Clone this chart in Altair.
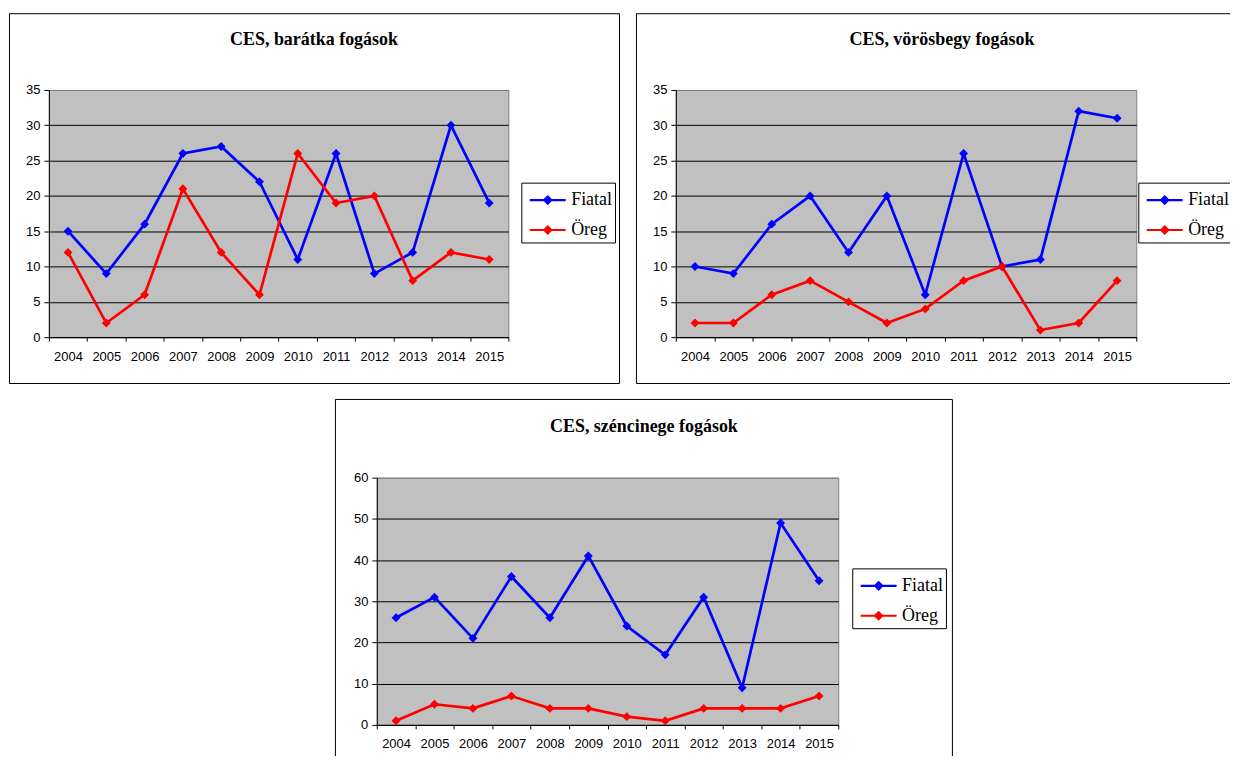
import altair as alt
import pandas as pd

years = ["2004", "2005", "2006", "2007", "2008", "2009", "2010", "2011", "2012", "2013", "2014", "2015"]
groups = ["Fiatal", "Öreg"]

barat_fiatal = [15, 9, 16, 26, 27, 22, 11, 26, 9, 12, 30, 19]
barat_oreg = [12, 2, 6, 21, 12, 6, 26, 19, 20, 8, 12, 11]
voros_fiatal = [10, 9, 16, 20, 12, 20, 6, 26, 10, 11, 32, 31]
voros_oreg = [2, 2, 6, 8, 5, 2, 4, 8, 10, 1, 2, 8]
szen_fiatal = [26, 31, 21, 36, 26, 41, 24, 17, 31, 9, 49, 35]
szen_oreg = [1, 5, 4, 7, 4, 4, 2, 1, 4, 4, 4, 7]

titles = ["CES, barátka fogások", "CES, vörösbegy fogások", "CES, széncinege fogások"]
y_ticks_35 = [0, 5, 10, 15, 20, 25, 30, 35]
y_ticks_60 = [0, 10, 20, 30, 40, 50, 60]

colors = ["#0000FF", "#FF0000"]
SANS = "Liberation Sans"
SERIF = "Liberation Serif"

legend_symbol = "M-1.385,0H1.385M0,-0.27L0.27,0L0,0.27L-0.27,0Z"


def make_df(fiatal, oreg):
    rows = []
    for g, vals in zip(groups, [fiatal, oreg]):
        for yr, v in zip(years, vals):
            rows.append({"year": yr, "group": g, "value": v})
    return pd.DataFrame(rows)


def panel(fiatal, oreg, title, ymax, yticks, W, H, frame, title_pos, legend_pos):
    df = make_df(fiatal, oreg)
    x = alt.X("year:O", title=None,
              scale=alt.Scale(type="band", paddingInner=0, paddingOuter=0),
              axis=alt.Axis(labelAngle=0, tickBand="extent", grid=False,
                            labelFont=SANS, labelFontSize=13, labelColor="black",
                            domainColor="black", tickColor="black", tickSize=4,
                            labelPadding=9))
    y = alt.Y("value:Q", title=None,
              scale=alt.Scale(domain=[0, ymax], nice=False, zero=True),
              axis=alt.Axis(values=yticks, grid=True,
                            gridColor={"condition": {"test": f"datum.value >= {ymax}", "value": "#808080"},
                                       "value": "black"},
                            labelFont=SANS, labelFontSize=13, labelColor="black",
                            domainColor="black", tickColor="black", tickSize=5,
                            labelPadding=4))
    leg = alt.Legend(title=None, orient="none",
                     legendX=legend_pos[0], legendY=legend_pos[1],
                     fillColor="white", strokeColor="black",
                     padding=3, rowPadding=6,
                     symbolType=legend_symbol, symbolSize=676,
                     symbolStrokeWidth=2.2, symbolOffset=9,
                     labelOffset=9,
                     labelFont=SERIF, labelFontSize=18,
                     labelColor="black")
    color = alt.Color("group:N", scale=alt.Scale(domain=groups, range=colors), legend=leg)
    lines = alt.Chart(df).mark_line(strokeWidth=2.7).encode(x=x, y=y, color=color)
    pts = alt.Chart(df).mark_point(shape="diamond", filled=True, size=80, opacity=1).encode(
        x=x, y=y, color=color)
    fr = alt.Chart(pd.DataFrame({"f": [0]})).mark_rect(
        fillOpacity=0, stroke="black", strokeWidth=1).encode(
        x=alt.value(frame[0]), x2=alt.value(frame[1]),
        y=alt.value(frame[2]), y2=alt.value(frame[3]))
    tt = alt.Chart(pd.DataFrame({"t": [title]})).mark_text(
        font=SERIF, fontWeight="bold", fontSize=18, align="center",
        baseline="alphabetic", color="black").encode(
        text="t:N", x=alt.value(title_pos[0]), y=alt.value(title_pos[1]))
    return alt.layer(fr, tt, lines, pts).properties(
        width=W, height=H,
        view=alt.ViewBackground(fill="#C0C0C0", stroke="#808080"))


p1 = panel(barat_fiatal, barat_oreg, titles[0], 35, y_ticks_35, 461, 248,
           (-39.5, 572.5, -76.5, 294.5), (266, -45), (474, 93))
p2 = panel(voros_fiatal, voros_oreg, titles[1], 35, y_ticks_35, 462, 248,
           (-39.5, 572.5, -76.5, 294.5), (267, -45), (464, 93))
p3 = panel(szen_fiatal, szen_oreg, titles[2], 60, y_ticks_60, 463, 248,
           (-41.5, 577.5, -78.5, 294.5), (268, -46), (477, 91))

spacer = alt.Chart(pd.DataFrame({"s": [0]})).mark_rect(fill="white").encode(
    x=alt.value(0), x2=alt.value(1), y=alt.value(0), y2=alt.value(1)).properties(
    width=285, height=248)

ind = dict(x="independent", y="independent", color="independent")
top = alt.hconcat(p1, p2, spacing=14).resolve_scale(**ind)
bottom = alt.hconcat(spacer, p3, spacing=0).resolve_scale(**ind)

chart = alt.vconcat(top, bottom, spacing=13).resolve_scale(**ind).properties(
    padding={"left": 0, "top": 3, "right": -18, "bottom": -18},
    background="white").configure_view(stroke="transparent", fill="transparent")

chart.save("out.html", embed_options={"renderer": "svg", "actions": False})
